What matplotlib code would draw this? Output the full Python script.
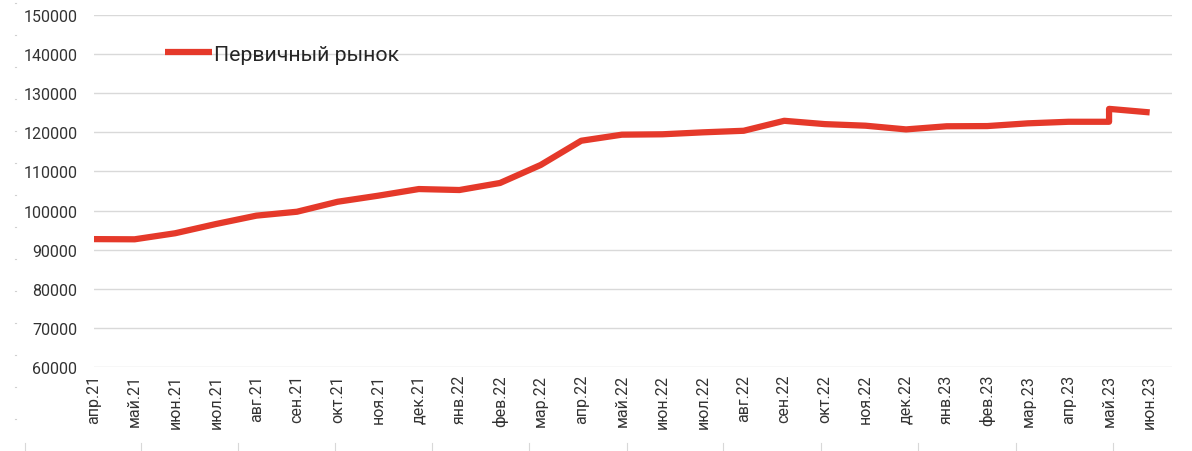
import matplotlib
matplotlib.use("Agg")
import matplotlib.pyplot as plt

plt.rcParams['font.family'] = ['Roboto', 'DejaVu Sans']

# Month labels on the category axis
months = ["апр.21", "май.21", "июн.21", "июл.21", "авг.21", "сен.21", "окт.21",
          "ноя.21", "дек.21", "янв.22", "фев.22", "мар.22", "апр.22", "май.22",
          "июн.22", "июл.22", "авг.22", "сен.22", "окт.22", "ноя.22", "дек.22",
          "янв.23", "фев.23", "мар.23", "апр.23", "май.23", "июн.23"]

# Month of each observation (май.23 carries two observations)
point_months = months[:26] + ["май.23", "июн.23"]

# Average price per sq. m, primary market, rub.
primary_market = [92700, 92650, 94200, 96550, 98700, 99700, 102250, 103800,
                  105500, 105250, 107050, 111650, 117850, 119400, 119500,
                  120000, 120400, 122950, 122100, 121700, 120750, 121550,
                  121600, 122300, 122700, 122700, 126000, 125100]

series_name = "Первичный рынок"
y_ticks = list(range(60000, 150001, 10000))

W, H, DPI = 1192, 452, 100
fig = plt.figure(figsize=(W / DPI, H / DPI), dpi=DPI)

# faint frame ticks around the chart area
bg = fig.add_axes([0, 0, 1, 1], zorder=-1)
bg.set_xlim(0, W)
bg.set_ylim(H, 0)
for s in bg.spines.values():
    s.set_visible(False)
bg.set_xticks([])
bg.set_yticks([])
for yy in range(4, 430, 32):
    bg.plot([14.5, 16], [yy, yy], color="#d0d0d0", lw=0.8)
for xx in [25, 141, 238, 335, 432, 529, 627, 723, 821, 918, 1016, 1113]:
    bg.plot([xx, xx], [444, 452], color="#d8d8d8", lw=0.8)

ax = fig.add_axes([94 / W, 1 - 368 / H, (1172 - 94) / W, (368 - 16) / H])

idx = {m: i for i, m in enumerate(months)}
xs = [idx[m] for m in point_months]
ax.plot(xs, primary_market, color="#e5392a", lw=4.5, solid_joinstyle="round",
        solid_capstyle="butt", label=series_name, zorder=3)

ax.set_xlim(0, 26.55)
ax.set_ylim(60000, 150000)
ax.set_yticks(y_ticks)
ax.set_yticklabels([str(v) for v in y_ticks])
ax.set_xticks(range(len(months)))
ax.set_xticklabels(months, rotation=90, ha="center", va="top")

ax.grid(axis="y", color="#d9d9d9", lw=1.0)
ax.set_axisbelow(True)
for s in ax.spines.values():
    s.set_visible(False)
ax.tick_params(axis="y", length=0, pad=12, labelsize=11.5, labelcolor="#333333")
ax.tick_params(axis="x", length=0, pad=5, labelsize=11.5, labelcolor="#333333")

leg = ax.legend(loc="center left", bbox_to_anchor=(0.0659, 0.889), frameon=False,
                handlelength=2.2, handletextpad=0.1, borderpad=0, borderaxespad=0,
                fontsize=15.3)
for t in leg.get_texts():
    t.set_color("#262626")

fig.savefig("out.png", dpi=DPI, facecolor="white")
